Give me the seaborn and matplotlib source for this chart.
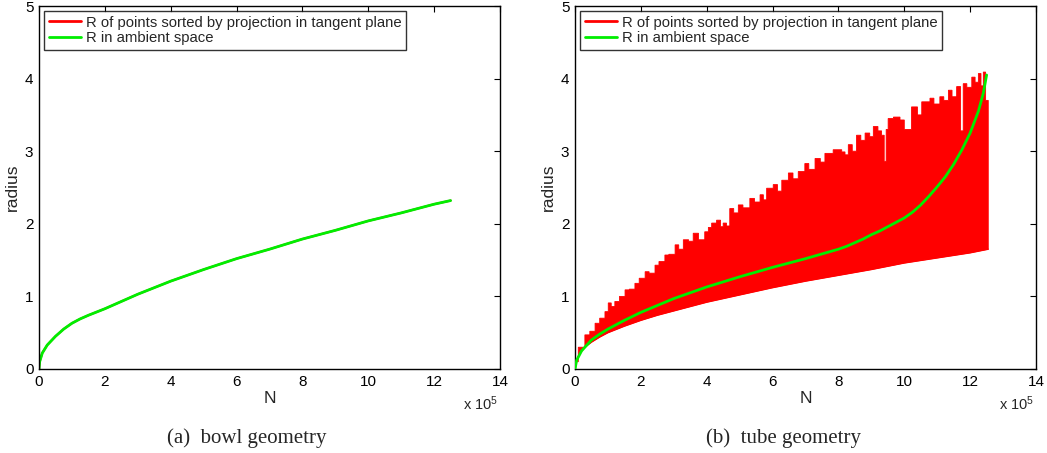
import numpy as np
import pandas as pd
import matplotlib
matplotlib.use("Agg")
import matplotlib.pyplot as plt
import seaborn as sns

# ---------------- data (N in units of 1e5) ----------------
bowl_N = [0.0, 0.02, 0.1, 0.25, 0.5, 0.75, 1.0, 1.25, 1.5, 2.0, 2.5, 3.0, 4.0,
          5.0, 6.0, 7.0, 8.0, 9.0, 10.0, 11.0, 12.0, 12.5]
bowl_R_ambient = [0.0, 0.10, 0.22, 0.33, 0.45, 0.55, 0.63, 0.69, 0.74, 0.83,
                  0.93, 1.03, 1.21, 1.37, 1.52, 1.65, 1.79, 1.91, 2.04, 2.15,
                  2.27, 2.32]
bowl_R_tangent = [0.0, 0.10, 0.22, 0.33, 0.45, 0.55, 0.63, 0.69, 0.74, 0.83,
                  0.93, 1.03, 1.21, 1.37, 1.52, 1.65, 1.79, 1.91, 2.04, 2.15,
                  2.27, 2.32]

tube_N = [0.0, 0.05, 0.2, 0.5, 0.75, 1.0, 1.5, 2.0, 3.0, 4.0, 5.0, 6.0, 7.0,
          8.0, 8.25, 8.5, 8.75, 9.0, 9.25, 9.5, 9.75, 10.0, 10.25, 10.5,
          10.75, 11.0, 11.25, 11.5, 11.75, 12.0, 12.25, 12.4, 12.5]
tube_R_ambient = [0.0, 0.12, 0.25, 0.40, 0.48, 0.55, 0.67, 0.78, 0.97, 1.13,
                  1.27, 1.40, 1.52, 1.65, 1.69, 1.74, 1.79, 1.85, 1.90, 1.96,
                  2.02, 2.08, 2.16, 2.26, 2.38, 2.51, 2.65, 2.82, 3.02, 3.25,
                  3.55, 3.80, 4.05]

# upper edge of the tangent-plane R band (spiky)
tube_upper_N = [0.0, 0.1, 0.3, 0.45, 0.61, 0.75, 0.91, 1.01, 1.1, 1.21, 1.35,
                1.52, 1.65, 1.82, 1.95, 2.13, 2.25, 2.43, 2.55, 2.73, 2.85,
                3.04, 3.15, 3.29, 3.45, 3.59, 3.75, 3.94, 4.05, 4.15, 4.30,
                4.42, 4.5, 4.6, 4.70, 4.82, 4.96, 5.1, 5.31, 5.45, 5.62, 5.72,
                5.82, 6.02, 6.15, 6.28, 6.48, 6.62, 6.78, 6.98, 7.1, 7.29,
                7.45, 7.59, 7.84, 8.10, 8.2, 8.30, 8.42, 8.55, 8.68, 8.81,
                8.95, 9.06, 9.2, 9.31, 9.39, 9.45, 9.51, 9.67, 9.87, 10.0,
                10.22, 10.4, 10.53, 10.78, 10.9, 11.08, 11.2, 11.34, 11.45,
                11.59, 11.71, 11.79, 11.9, 12.05, 12.15, 12.25, 12.33, 12.40,
                12.47, 12.55]
tube_upper_R = [0.10, 0.30, 0.47, 0.52, 0.63, 0.70, 0.79, 0.91, 0.86, 0.93,
                1.00, 1.09, 1.10, 1.18, 1.25, 1.34, 1.32, 1.43, 1.48, 1.57,
                1.58, 1.71, 1.65, 1.78, 1.76, 1.87, 1.78, 1.89, 1.95, 2.01,
                2.05, 1.96, 2.01, 1.97, 2.21, 2.15, 2.26, 2.22, 2.35, 2.30,
                2.40, 2.33, 2.49, 2.54, 2.45, 2.60, 2.70, 2.62, 2.72, 2.83,
                2.75, 2.90, 2.85, 2.97, 3.02, 2.99, 2.95, 3.09, 3.00, 3.22,
                3.15, 3.25, 3.20, 3.34, 3.28, 3.22, 2.86, 3.30, 3.45, 3.47,
                3.43, 3.30, 3.61, 3.50, 3.68, 3.73, 3.65, 3.75, 3.70, 3.84,
                3.75, 3.89, 3.28, 3.93, 3.88, 4.02, 3.95, 4.07, 3.90, 4.09,
                3.70, 3.45]

# lower edge of the tangent-plane R band
tube_lower_N = [0.0, 0.05, 0.15, 0.3, 0.5, 0.75, 1.0, 1.5, 2.0, 2.5, 3.0, 3.5,
                4.0, 5.0, 6.0, 7.0, 8.0, 9.0, 10.0, 11.0, 12.0, 12.55]
tube_lower_R = [0.0, 0.12, 0.22, 0.30, 0.37, 0.44, 0.50, 0.59, 0.67, 0.74,
                0.80, 0.86, 0.92, 1.02, 1.12, 1.21, 1.29, 1.37, 1.46, 1.53,
                1.60, 1.65]

legend_labels = ["R of points sorted by projection in tangent plane",
                 "R in ambient space"]
captions = ["(a)  bowl geometry", "(b)  tube geometry"]
xticks = [0, 2, 4, 6, 8, 10, 12, 14]
yticks = [0, 1, 2, 3, 4, 5]

RED = "#ff0000"
GREEN = "#00ee00"

# ---------------- style ----------------
sns.set_style("white")
plt.rcParams["font.family"] = ["Liberation Sans", "DejaVu Sans"]
plt.rcParams["mathtext.fontset"] = "custom"
plt.rcParams["mathtext.rm"] = "Liberation Sans"
plt.rcParams["mathtext.it"] = "Liberation Sans"

fig = plt.figure(figsize=(10.47, 4.53), dpi=100)
W, H = 1047, 453
ax_l = fig.add_axes([39 / W, (H - 369) / H, 461 / W, 363 / H])
ax_r = fig.add_axes([575 / W, (H - 369) / H, 461 / W, 363 / H])


def style_axes(ax):
    ax.set_xlim(0, 14)
    ax.set_ylim(0, 5)
    ax.set_xticks(xticks)
    ax.set_yticks(yticks)
    ax.set_xticklabels([str(t) for t in xticks])
    ax.set_yticklabels([str(t) for t in yticks])
    ax.tick_params(direction="in", length=4, width=0.8, top=True, right=True,
                   labelsize=11, pad=4, colors="black")
    for s in ax.spines.values():
        s.set_visible(True)
        s.set_color("black")
        s.set_linewidth(1.0)
    ax.set_xlabel("N", fontsize=12.5, labelpad=2)
    ax.set_ylabel("radius", fontsize=12.5, labelpad=4)
    ax.text(0.995, -0.113, r"x 10$^5$", transform=ax.transAxes, ha="right",
            va="baseline", fontsize=10.5)
    leg = ax.legend(loc="upper left", fontsize=10.7, frameon=True, fancybox=False,
                    borderpad=0.3, labelspacing=0.1, handlelength=2.2,
                    handletextpad=0.3, borderaxespad=0.35)
    leg.get_frame().set_edgecolor("black")
    leg.get_frame().set_linewidth(1.0)
    for ln in leg.get_lines():
        ln.set_linewidth(2.0)


# ---------------- left: bowl ----------------
df_bowl = pd.DataFrame({"N": bowl_N, "tan": bowl_R_tangent, "amb": bowl_R_ambient})
sns.lineplot(data=df_bowl, x="N", y="tan", ax=ax_l, color=RED, lw=1.5,
             label=legend_labels[0], sort=False, estimator=None)
sns.lineplot(data=df_bowl, x="N", y="amb", ax=ax_l, color=GREEN, lw=2.0,
             label=legend_labels[1], sort=False, estimator=None)
style_axes(ax_l)

# ---------------- right: tube ----------------
up_x = np.asarray(tube_upper_N)
up_y = np.asarray(tube_upper_R)
# steps-post vertices of the spiky upper edge
sx = np.repeat(up_x, 2)[1:]
sy = np.repeat(up_y, 2)[:-1]
poly_x = np.concatenate([sx, np.asarray(tube_lower_N)[::-1]])
poly_y = np.concatenate([sy, np.asarray(tube_lower_R)[::-1]])
ax_r.fill(poly_x, poly_y, color=RED, lw=0.6, ec=RED, zorder=1)

df_low = pd.DataFrame({"N": tube_lower_N, "R": tube_lower_R})
sns.lineplot(data=df_low, x="N", y="R", ax=ax_r, color=RED, lw=1.0,
             label=legend_labels[0], sort=False, estimator=None, zorder=2)
df_tube = pd.DataFrame({"N": tube_N, "R": tube_R_ambient})
sns.lineplot(data=df_tube, x="N", y="R", ax=ax_r, color=GREEN, lw=2.0,
             label=legend_labels[1], sort=False, estimator=None, zorder=3)
style_axes(ax_r)

# captions
fig.text(247 / W, 1 - 443 / H, captions[0], ha="center", va="baseline",
         fontsize=15, family=["Liberation Serif", "DejaVu Serif"])
fig.text(783 / W, 1 - 443 / H, captions[1], ha="center", va="baseline",
         fontsize=15, family=["Liberation Serif", "DejaVu Serif"])

fig.savefig("out.png", dpi=100)
